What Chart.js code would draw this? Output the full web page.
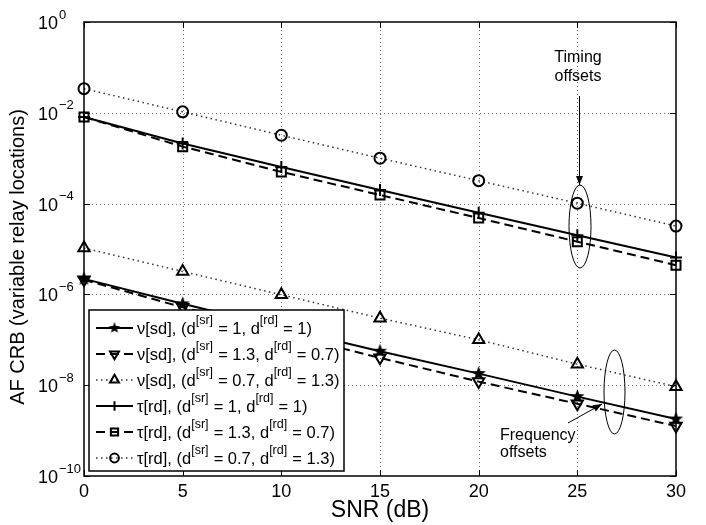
<!DOCTYPE html>
<html><head><meta charset="utf-8">
<script src="https://cdn.jsdelivr.net/npm/chart.js@4.4.1/dist/chart.umd.min.js"></script>
<style>html,body{margin:0;padding:0;background:#fff;overflow:hidden}canvas{display:block}</style>
</head><body>
<canvas id="c" width="706" height="525"></canvas>
<script>
// ---- data ----
const snr = [0, 5, 10, 15, 20, 25, 30];
const nuSd_1_1    = [2.2e-6, 6.2e-7, 1.85e-7, 5.6e-8, 1.8e-8, 5.6e-9, 1.8e-9];
const nuSd_13_07  = [2.1e-6, 5.2e-7, 1.4e-7, 4.0e-8, 1.2e-8, 3.9e-9, 1.26e-9];
const nuSd_07_13  = [1.05e-5, 3.2e-6, 9.8e-7, 3.0e-7, 1.0e-7, 2.9e-8, 9.3e-9];
const tauRd_1_1   = [8.1e-3, 2.1e-3, 6.4e-4, 2.0e-4, 6.3e-5, 2.0e-5, 6.5e-6];
const tauRd_13_07 = [8.1e-3, 1.8e-3, 5.0e-4, 1.55e-4, 4.8e-5, 1.45e-5, 4.4e-6];
const tauRd_07_13 = [3.4e-2, 1.05e-2, 3.2e-3, 1.0e-3, 3.2e-4, 1.02e-4, 3.2e-5];
const xTicks = [0, 5, 10, 15, 20, 25, 30];
const yTickExponents = [0, -2, -4, -6, -8, -10];
const xTitle = 'SNR (dB)';
const yTitle = 'AF CRB (variable relay locations)';
const legendLabels = [
  ['ν[sd], (d', '[sr]', ' = 1, d', '[rd]', ' = 1)'],
  ['ν[sd], (d', '[sr]', ' = 1.3, d', '[rd]', ' = 0.7)'],
  ['ν[sd], (d', '[sr]', ' = 0.7, d', '[rd]', ' = 1.3)'],
  ['τ[rd], (d', '[sr]', ' = 1, d', '[rd]', ' = 1)'],
  ['τ[rd], (d', '[sr]', ' = 1.3, d', '[rd]', ' = 0.7)'],
  ['τ[rd], (d', '[sr]', ' = 0.7, d', '[rd]', ' = 1.3)']
];
const timingText = ['Timing', 'offsets'];
const freqText = ['Frequency', 'offsets'];

const FONT = '"Liberation Sans", Arial, Helvetica, sans-serif';

// filled five-point star marker
function makeStar(R) {
  const s = Math.ceil(R * 2 + 2);
  const cv = document.createElement('canvas');
  cv.width = s; cv.height = s;
  const c = cv.getContext('2d');
  c.fillStyle = '#000';
  c.beginPath();
  for (let i = 0; i < 10; i++) {
    const r = i % 2 === 0 ? R : R * 0.42;
    const a = -Math.PI / 2 + i * Math.PI / 5;
    const px = s / 2 + r * Math.cos(a), py = s / 2 + r * Math.sin(a);
    if (i === 0) c.moveTo(px, py); else c.lineTo(px, py);
  }
  c.closePath(); c.fill();
  return cv;
}
const starImg = makeStar(7.5);
const starImgSmall = makeStar(6);

const SOLID = [], DASH = [9, 5], DOT = [1.5, 3.5];
const seriesDefs = [
  { data: nuSd_1_1,    dash: SOLID, width: 2,   color: '#000', style: starImg,   lstyle: starImgSmall, radius: 7,   rot: 0 },
  { data: nuSd_13_07,  dash: DASH,  width: 2,   color: '#000', style: 'triangle', radius: 6.5, rot: 180 },
  { data: nuSd_07_13,  dash: DOT,   width: 1.5, color: '#333', style: 'triangle', radius: 6.5, rot: 0 },
  { data: tauRd_1_1,   dash: SOLID, width: 2,   color: '#000', style: 'cross',    radius: 6,   rot: 0 },
  { data: tauRd_13_07, dash: DASH,  width: 2,   color: '#000', style: 'rect',     radius: 6.4, rot: 0 },
  { data: tauRd_07_13, dash: DOT,   width: 1.5, color: '#333', style: 'circle',   radius: 5.5, rot: 0 }
];

const datasets = seriesDefs.map((s, i) => ({
  label: legendLabels[i].join(''),
  data: snr.map((x, k) => ({ x: x, y: s.data[k] })),
  borderColor: s.color,
  borderWidth: s.width,
  borderDash: s.dash,
  pointStyle: s.style,
  pointRadius: s.radius,
  pointRotation: s.rot,
  pointBorderColor: '#000',
  pointBackgroundColor: 'rgba(0,0,0,0)',
  pointBorderWidth: 2,
  tension: 0,
  fill: false,
  clip: false
}));

const custom = {
  id: 'custom',
  beforeDraw(chart) {
    const ctx = chart.ctx;
    ctx.save(); ctx.fillStyle = '#fff'; ctx.fillRect(0, 0, chart.width, chart.height); ctx.restore();
  },
  beforeDatasetsDraw(chart) {
    const ctx = chart.ctx, a = chart.chartArea, xs = chart.scales.x, ys = chart.scales.y;
    ctx.save();
    ctx.strokeStyle = '#777'; ctx.lineWidth = 1; ctx.setLineDash([1, 3]);
    xTicks.forEach(v => {
      if (v === xs.min || v === xs.max) return;
      const px = Math.round(xs.getPixelForValue(v)) + 0.5;
      ctx.beginPath(); ctx.moveTo(px, a.top); ctx.lineTo(px, a.bottom); ctx.stroke();
    });
    yTickExponents.forEach(e => {
      const v = Math.pow(10, e);
      if (v === ys.min || v === ys.max) return;
      const py = Math.round(ys.getPixelForValue(v)) + 0.5;
      ctx.beginPath(); ctx.moveTo(a.left, py); ctx.lineTo(a.right, py); ctx.stroke();
    });
    ctx.restore();
  },
  afterDatasetsDraw(chart) {
    const ctx = chart.ctx, a = chart.chartArea, xs = chart.scales.x, ys = chart.scales.y;
    ctx.save();
    // axes box
    ctx.strokeStyle = '#000'; ctx.lineWidth = 1.5; ctx.setLineDash([]);
    ctx.strokeRect(a.left, a.top, a.right - a.left, a.bottom - a.top);
    // inner ticks
    ctx.lineWidth = 1;
    const TL = 6;
    xTicks.forEach(v => {
      const px = Math.round(xs.getPixelForValue(v)) + 0.5;
      ctx.beginPath();
      ctx.moveTo(px, a.bottom); ctx.lineTo(px, a.bottom - TL);
      ctx.moveTo(px, a.top); ctx.lineTo(px, a.top + TL);
      ctx.stroke();
    });
    yTickExponents.forEach(e => {
      const py = Math.round(ys.getPixelForValue(Math.pow(10, e))) + 0.5;
      ctx.beginPath();
      ctx.moveTo(a.left, py); ctx.lineTo(a.left + TL, py);
      ctx.moveTo(a.right, py); ctx.lineTo(a.right - TL, py);
      ctx.stroke();
    });
    // tick labels
    ctx.fillStyle = '#000';
    ctx.font = '18px ' + FONT; ctx.textAlign = 'center'; ctx.textBaseline = 'middle';
    xTicks.forEach(v => ctx.fillText(String(v), xs.getPixelForValue(v), a.bottom + 16));
    yTickExponents.forEach(e => {
      const py = ys.getPixelForValue(Math.pow(10, e));
      ctx.font = '18px ' + FONT; ctx.textAlign = 'left';
      ctx.fillText('10', 38, py + 2);
      const w = ctx.measureText('10').width;
      ctx.font = '13px ' + FONT;
      ctx.fillText(e === 0 ? '0' : '−' + Math.abs(e), 38 + w + 1, py - 7);
    });
    // titles
    ctx.font = '23px ' + FONT; ctx.textAlign = 'center';
    ctx.fillText(xTitle, (a.left + a.right) / 2, 511);
    ctx.save();
    ctx.translate(18, 257); ctx.rotate(-Math.PI / 2);
    ctx.font = '20px ' + FONT;
    ctx.fillText(yTitle, 0, 0);
    ctx.restore();

    // legend
    const L = { x: 89, y: 310, w: 255, h: 161 };
    ctx.fillStyle = '#fff'; ctx.fillRect(L.x, L.y, L.w, L.h);
    ctx.strokeStyle = '#000'; ctx.lineWidth = 1.5; ctx.strokeRect(L.x, L.y, L.w, L.h);
    seriesDefs.forEach((s, i) => {
      const ry = 328 + i * 26;
      ctx.save();
      ctx.strokeStyle = s.color; ctx.lineWidth = s.width; ctx.setLineDash(s.dash);
      ctx.beginPath(); ctx.moveTo(96, ry); ctx.lineTo(133, ry); ctx.stroke();
      ctx.restore();
      ctx.save();
      ctx.strokeStyle = '#000'; ctx.fillStyle = 'rgba(0,0,0,0)'; ctx.lineWidth = 2; ctx.setLineDash([]);
      Chart.helpers.drawPoint(ctx, { pointStyle: s.lstyle || s.style, radius: s.radius * 0.8, rotation: s.rot, borderWidth: 2 }, 114.5, ry);
      ctx.restore();
      // text with superscripts
      let tx = 137;
      ctx.fillStyle = '#000'; ctx.textAlign = 'left'; ctx.textBaseline = 'middle';
      legendLabels[i].forEach((part, k) => {
        const sup = k % 2 === 1;
        ctx.font = (sup ? '12.5px ' : '16.5px ') + FONT;
        ctx.fillText(part, tx, sup ? ry - 7 : ry + 1);
        tx += ctx.measureText(part).width + (sup ? 0.5 : 0);
      });
    });

    // annotations
    ctx.strokeStyle = '#000'; ctx.fillStyle = '#000'; ctx.lineWidth = 1; ctx.setLineDash([]);
    ctx.font = '16px ' + FONT; ctx.textAlign = 'center'; ctx.textBaseline = 'middle';
    ctx.fillText(timingText[0], 578, 58);
    ctx.fillText(timingText[1], 578, 77);
    ctx.textAlign = 'left';
    ctx.fillText(freqText[0], 500, 436);
    ctx.fillText(freqText[1], 500, 453);
    function arrow(x1, y1, x2, y2) {
      ctx.beginPath(); ctx.moveTo(x1, y1); ctx.lineTo(x2, y2); ctx.stroke();
      const ang = Math.atan2(y2 - y1, x2 - x1), len = 9, hw = 3.5;
      const bx = x2 - len * Math.cos(ang), by = y2 - len * Math.sin(ang);
      ctx.beginPath();
      ctx.moveTo(x2, y2);
      ctx.lineTo(bx + hw * Math.sin(ang), by - hw * Math.cos(ang));
      ctx.lineTo(bx - hw * Math.sin(ang), by + hw * Math.cos(ang));
      ctx.closePath(); ctx.fill();
    }
    arrow(579.5, 96, 579.5, 185);
    arrow(568, 423, 602, 404);
    ctx.beginPath(); ctx.ellipse(580, 226.5, 11, 41.5, 0, 0, Math.PI * 2); ctx.stroke();
    ctx.beginPath(); ctx.ellipse(614.5, 392, 10.5, 42, 0, 0, Math.PI * 2); ctx.stroke();
    ctx.restore();
  }
};

new Chart(document.getElementById('c'), {
  type: 'line',
  data: { datasets: datasets },
  options: {
    responsive: false,
    devicePixelRatio: 1,
    animation: false,
    events: [],
    layout: { padding: { left: 84, top: 22, right: 30, bottom: 49 } },
    scales: {
      x: { type: 'linear', min: 0, max: 30, display: false },
      y: { type: 'logarithmic', min: 1e-10, max: 1, display: false }
    },
    plugins: { legend: { display: false }, tooltip: { enabled: false } }
  },
  plugins: [custom]
});
</script>
</body></html>
